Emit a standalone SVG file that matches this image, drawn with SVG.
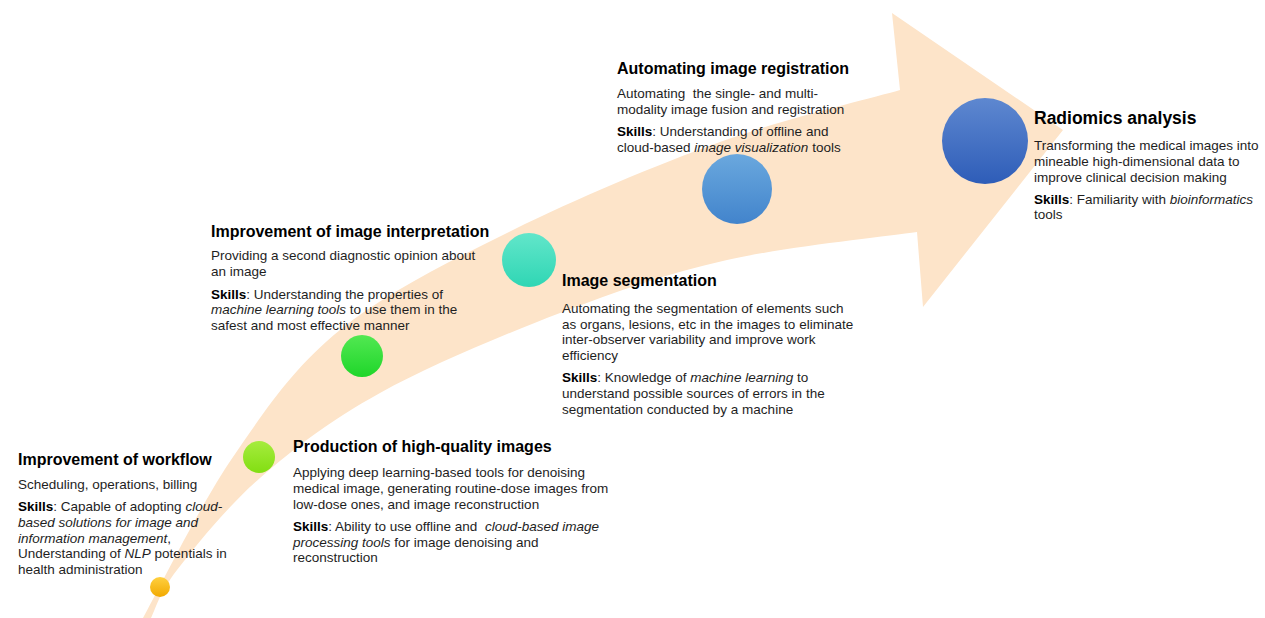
<svg xmlns="http://www.w3.org/2000/svg" width="1265" height="618" viewBox="0 0 1265 618">
  <style>
    .h { font-family: "Liberation Sans", Arial, sans-serif; font-weight: bold; font-size: 16px; fill: #000; }
    .hl { font-family: "Liberation Sans", Arial, sans-serif; font-weight: bold; font-size: 17.5px; fill: #000; }
    .t { font-family: "Liberation Sans", Arial, sans-serif; font-size: 13.5px; fill: #1e1e1e; white-space: pre; }
    .b { font-weight: bold; fill: #000; }
    .i { font-style: italic; }
  </style>
  <defs>
    <linearGradient id="gYellow" x1="0" y1="0" x2="0" y2="1">
      <stop offset="0" stop-color="#FFD040"/>
      <stop offset="1" stop-color="#F2A900"/>
    </linearGradient>
    <linearGradient id="gLime" x1="0" y1="0" x2="0" y2="1">
      <stop offset="0" stop-color="#A6EC3E"/>
      <stop offset="1" stop-color="#82DE12"/>
    </linearGradient>
    <linearGradient id="gGreen" x1="0" y1="0" x2="0" y2="1">
      <stop offset="0" stop-color="#52E852"/>
      <stop offset="1" stop-color="#1FD62A"/>
    </linearGradient>
    <linearGradient id="gTeal" x1="0" y1="0" x2="0" y2="1">
      <stop offset="0" stop-color="#62E6CA"/>
      <stop offset="1" stop-color="#2FD6B4"/>
    </linearGradient>
    <linearGradient id="gBlue" x1="0" y1="0" x2="0" y2="1">
      <stop offset="0" stop-color="#6AA8DE"/>
      <stop offset="1" stop-color="#4284CC"/>
    </linearGradient>
    <linearGradient id="gNavy" x1="0" y1="0" x2="0" y2="1">
      <stop offset="0" stop-color="#5E88D0"/>
      <stop offset="1" stop-color="#2E5DB8"/>
    </linearGradient>
  </defs>

  <!-- curved progression arrow in the background -->
  <g id="arrow">
    <path fill="#FDE4C9" d="M143,618
      C158,591 200,505 233,457
      C266,409 293,368 340,330
      C386.7,292.2 449.7,261.3 513,230
      C576.3,198.7 655.5,165.3 720,142
      C784.5,118.7 870,98.7 900,90
      L892,13 L1063,130 L923,307 L917,232
      C885.3,236.7 786.5,246.5 727,260
      C667.5,273.5 617.8,290.8 560,313
      C502.2,335.2 430,365.5 380,393
      C330,420.5 293.8,448.5 260,478
      C226.2,507.5 195.2,546.7 177,570
      C158.8,593.3 155.3,610 151,618 Z"/>
  </g>

  <g id="node-workflow">
    <circle cx="160" cy="587" r="10" fill="url(#gYellow)"/>
    <text class="h" x="18" y="465">Improvement of workflow</text>
    <text class="t" x="18" y="489">Scheduling, operations, billing</text>
    <text class="t" x="18" y="511"><tspan class="b">Skills</tspan>: Capable of adopting <tspan class="i">cloud-</tspan></text>
    <text class="t i" x="18" y="527">based solutions for image and</text>
    <text class="t" x="18" y="542.5"><tspan class="i">information management</tspan>,</text>
    <text class="t" x="18" y="558">Understanding of <tspan class="i">NLP</tspan> potentials in</text>
    <text class="t" x="18" y="574">health administration</text>
  </g>

  <g id="node-quality">
    <circle cx="259" cy="457" r="16" fill="url(#gLime)"/>
    <text class="h" x="293" y="452">Production of high-quality images</text>
    <text class="t" x="293" y="477">Applying deep learning-based tools for denoising</text>
    <text class="t" x="293" y="493">medical image, generating routine-dose images from</text>
    <text class="t" x="293" y="508.5">low-dose ones, and image reconstruction</text>
    <text class="t" x="293" y="531"><tspan class="b">Skills</tspan>: Ability to use offline and  <tspan class="i">cloud-based image</tspan></text>
    <text class="t" x="293" y="546.5"><tspan class="i">processing tools</tspan> for image denoising and</text>
    <text class="t" x="293" y="562">reconstruction</text>
  </g>

  <g id="node-interpretation">
    <circle cx="362" cy="356" r="21" fill="url(#gGreen)"/>
    <text class="h" x="211" y="237">Improvement of image interpretation</text>
    <text class="t" x="211" y="260">Providing a second diagnostic opinion about</text>
    <text class="t" x="211" y="276">an image</text>
    <text class="t" x="211" y="298.5"><tspan class="b">Skills</tspan>: Understanding the properties of</text>
    <text class="t" x="211" y="314"><tspan class="i">machine learning tools</tspan> to use them in the</text>
    <text class="t" x="211" y="330">safest and most effective manner</text>
  </g>

  <g id="node-segmentation">
    <circle cx="529" cy="260" r="27" fill="url(#gTeal)"/>
    <text class="h" x="562" y="286">Image segmentation</text>
    <text class="t" x="562" y="312.5">Automating the segmentation of elements such</text>
    <text class="t" x="562" y="328.5">as organs, lesions, etc in the images to eliminate</text>
    <text class="t" x="562" y="344">inter-observer variability and improve work</text>
    <text class="t" x="562" y="359.5">efficiency</text>
    <text class="t" x="562" y="382"><tspan class="b">Skills</tspan>: Knowledge of <tspan class="i">machine learning</tspan> to</text>
    <text class="t" x="562" y="397.5">understand possible sources of errors in the</text>
    <text class="t" x="562" y="413.5">segmentation conducted by a machine</text>
  </g>

  <g id="node-registration">
    <circle cx="737" cy="189" r="35" fill="url(#gBlue)"/>
    <text class="h" x="617" y="74">Automating image registration</text>
    <text class="t" x="617" y="98">Automating  the single- and multi-</text>
    <text class="t" x="617" y="113.5">modality image fusion and registration</text>
    <text class="t" x="617" y="136"><tspan class="b">Skills</tspan>: Understanding of offline and</text>
    <text class="t" x="617" y="152">cloud-based <tspan class="i">image visualization</tspan> tools</text>
  </g>

  <g id="node-radiomics">
    <circle cx="985" cy="141" r="43" fill="url(#gNavy)"/>
    <text class="hl" x="1034" y="124">Radiomics analysis</text>
    <text class="t" x="1034" y="150">Transforming the medical images into</text>
    <text class="t" x="1034" y="166">mineable high-dimensional data to</text>
    <text class="t" x="1034" y="182">improve clinical decision making</text>
    <text class="t" x="1034" y="204"><tspan class="b">Skills</tspan>: Familiarity with <tspan class="i">bioinformatics</tspan></text>
    <text class="t" x="1034" y="219">tools</text>
  </g>
</svg>
